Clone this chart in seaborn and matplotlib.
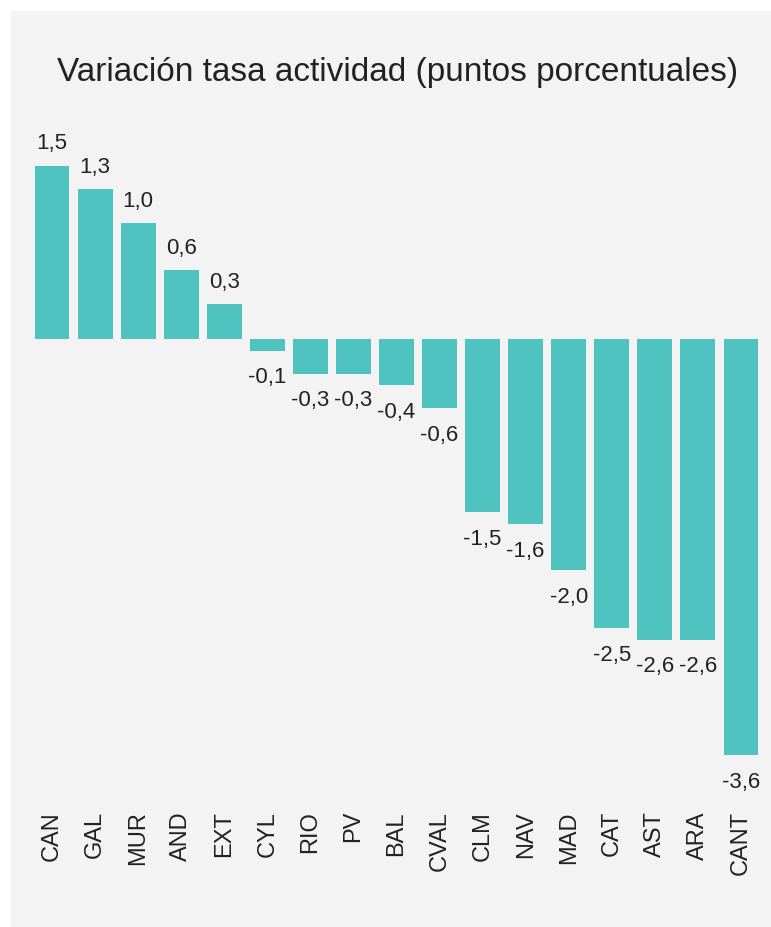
import matplotlib
matplotlib.use("Agg")
import matplotlib.pyplot as plt
from matplotlib.patches import Rectangle
import seaborn as sns
import pandas as pd

# Change in activity rate by region (percentage points)
regions = ["CAN", "GAL", "MUR", "AND", "EXT", "CYL", "RIO", "PV", "BAL",
           "CVAL", "CLM", "NAV", "MAD", "CAT", "AST", "ARA", "CANT"]
values = [1.5, 1.3, 1.0, 0.6, 0.3, -0.1, -0.3, -0.3, -0.4,
          -0.6, -1.5, -1.6, -2.0, -2.5, -2.6, -2.6, -3.6]
title = "Variación tasa actividad (puntos porcentuales)"

df = pd.DataFrame({"region": regions, "valor": values})

sns.set_theme(style="white")
plt.rcParams["font.family"] = ["Liberation Sans", "DejaVu Sans"]

W, H = 771, 927
fig = plt.figure(figsize=(W / 100, H / 100), dpi=100, facecolor="white")

# light grey card behind the chart
fig.patches.append(Rectangle((11 / W, 0), 1 - 11 / W, 1 - 11 / H,
                             transform=fig.transFigure, facecolor="#f3f3f3",
                             edgecolor="none", zorder=-10))

ax_left, ax_right = 30.5, 762.5
ax_top, ax_bot = 131, 800
ax = fig.add_axes([ax_left / W, 1 - ax_bot / H,
                   (ax_right - ax_left) / W, (ax_bot - ax_top) / H])
ax.set_facecolor("none")
ax.set_zorder(1)

bar_color = "#4ec3bf"
sns.barplot(data=df, x="region", y="valor", color=bar_color, saturation=1,
            width=0.81, linewidth=0, ax=ax)

zero_px, px_per_unit = 339, 115.6
ax.set_ylim(-(ax_bot - zero_px) / px_per_unit, (zero_px - ax_top) / px_per_unit)
ax.set_xlim(-0.5, len(regions) - 0.5)

txt = "#222222"
for i, v in enumerate(values):
    label = f"{v:.1f}".replace(".", ",")
    if v >= 0:
        ax.annotate(label, (i, v), xytext=(0, 8), textcoords="offset points",
                    ha="center", va="bottom", fontsize=16, color=txt)
    else:
        ax.annotate(label, (i, v), xytext=(0, -12), textcoords="offset points",
                    ha="center", va="top", fontsize=16, color=txt)

ax.set_xlabel("")
ax.set_ylabel("")
ax.set_yticks([])
ax.tick_params(axis="x", length=0, pad=8, labelsize=17, labelcolor=txt)
for lbl in ax.get_xticklabels():
    lbl.set_rotation(90)
    lbl.set_ha("center")
    lbl.set_va("top")
for s in ax.spines.values():
    s.set_visible(False)

fig.text(398 / W, 1 - 73 / H, title, ha="center", va="center",
         fontsize=24, color=txt)

fig.savefig("out.png", dpi=100, facecolor="white")
